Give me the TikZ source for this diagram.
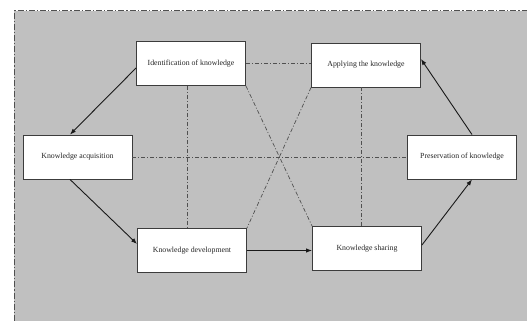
\documentclass[tikz,border=0pt]{standalone}
\usepackage{fontspec}
\setmainfont{Liberation Serif}
\usetikzlibrary{arrows.meta,calc}
\definecolor{bggray}{RGB}{192,192,192}
\definecolor{boxline}{RGB}{60,60,60}
\definecolor{dashline}{RGB}{80,80,80}
\begin{document}
\begin{tikzpicture}[x=1pt,y=-1pt,
  kbox/.style={draw=boxline,line width=0.9pt,fill=white,minimum width=109pt,minimum height=44pt,inner sep=0pt,font=\fontsize{7.8}{9}\selectfont,text=black!85},
  flow/.style={draw=black!90,line width=0.9pt,-{Latex[length=6pt,width=4.5pt]}},
  link/.style={draw=dashline,line width=0.7pt,dash pattern=on 4pt off 2pt on 1pt off 2pt},
  frame/.style={draw=dashline,line width=1pt,dash pattern=on 6pt off 2pt on 1.2pt off 2pt}]
\useasboundingbox (0,0) rectangle (527,321);
\fill[bggray] (14,11) rectangle (527,321);
\draw[frame] (14,321) -- (14,11) -- (527,11);

\node[kbox] (ident) at (191,63.5) {Identification of knowledge};
\node[kbox] (apply) at (366,65) {Applying the knowledge};
\node[kbox] (acq) at (77.5,157) {Knowledge acquisition\hspace{6pt}};
\node[kbox] (pres) at (462,157) {Preservation of knowledge};
\node[kbox] (dev) at (192,250.5) {Knowledge development\hspace{6pt}};
\node[kbox] (share) at (367,248.5) {Knowledge sharing};

% dash-dot links
\draw[link] (ident.east) -- (ident.east -| apply.west);
\draw[link] (acq.east) -- (pres.west);
\draw[link] ([xshift=-3.5pt]ident.south) -- ([xshift=-3.5pt]ident.south |- dev.north);
\draw[link] ([xshift=-5pt]apply.south) -- ([xshift=-5pt]apply.south |- share.north);
\draw[link] (ident.south east) -- (share.north west);
\draw[link] (apply.south west) -- (dev.north east);

% solid flow arrows
\draw[flow] ([yshift=-4.5pt]ident.west) -- ([xshift=-7.5pt]acq.north);
\draw[flow] ([xshift=-7.5pt]acq.south) -- ([yshift=6.5pt]dev.west);
\draw[flow] (dev.east) -- (dev.east -| share.west);
\draw[flow] ([yshift=3.5pt]share.east) -- ([xshift=10pt]pres.south);
\draw[flow] ([xshift=10pt]pres.north) -- ([yshift=6pt]apply.east);
\end{tikzpicture}
\end{document}
